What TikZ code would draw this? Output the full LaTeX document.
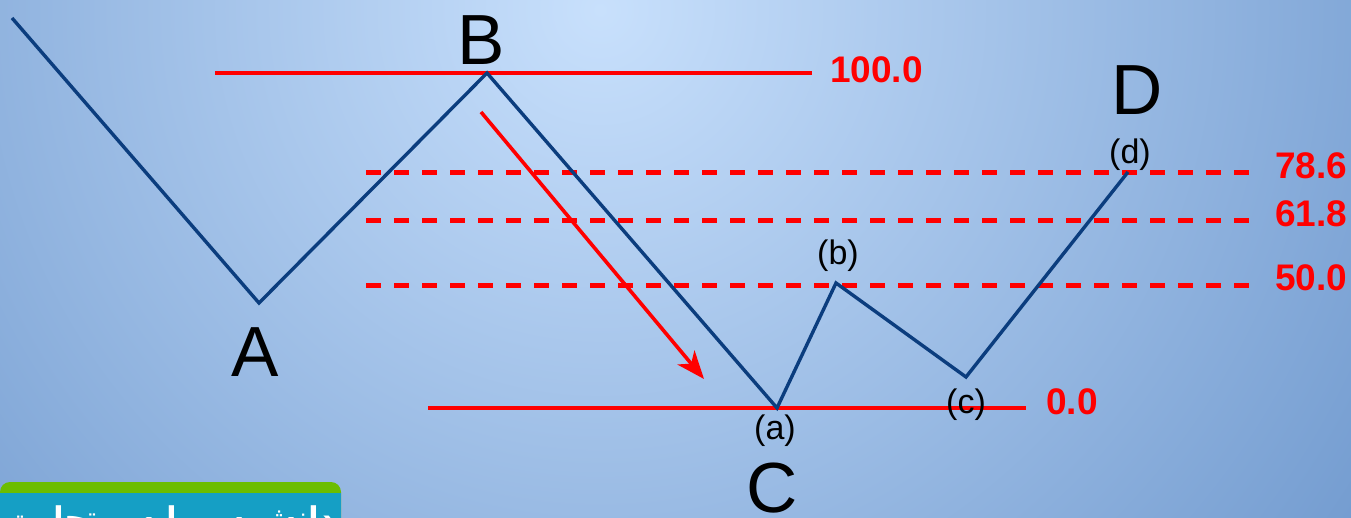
\documentclass[tikz,border=0pt]{standalone}
\usepackage{fontspec}
\setmainfont{Liberation Sans}
\newfontfamily\arabicfont[Script=Arabic]{DejaVu Sans}
\TeXXeTstate=1
\usetikzlibrary{arrows.meta}
\definecolor{bgin}{HTML}{C8E0FC}
\definecolor{bgout}{HTML}{6C96CC}
\definecolor{wavecol}{HTML}{0B3D7E}
\definecolor{fibred}{HTML}{FF0000}
\definecolor{bargreen}{HTML}{6CBD00}
\definecolor{barteal}{HTML}{159FC5}
\tikzset{
  waveline/.style={draw=wavecol, line width=3.4pt, line join=miter},
  levelline/.style={draw=fibred, line width=4pt},
  dashlevel/.style={draw=fibred, line width=5pt, dash pattern=on 15pt off 13pt},
  bigletter/.style={font=\fontsize{71}{80}\selectfont, text=black, inner sep=0pt},
  smalllabel/.style={font=\fontsize{34}{40}\selectfont, text=black, inner sep=0pt},
  pctlabel/.style={font=\bfseries\fontsize{37}{42}\selectfont, text=fibred, inner sep=0pt, anchor=west},
}
\begin{document}
\begin{tikzpicture}[x=1pt,y=-1pt]
\useasboundingbox (0,0) rectangle (1351,518);
\begin{scope}
\clip (0,0) rectangle (1351,518);
\shade[inner color=bgin, outer color=bgout] (600,10) circle (1000);
% bottom-left banner
\fill[bargreen] (0,518) -- (0,492) [rounded corners=10pt] -- (0,482) -- (341,482) [sharp corners] -- (341,518) -- cycle;
\fill[barteal] (0,493) rectangle (341,518);
\node[anchor=base, text=white, inner sep=0pt, font=\arabicfont\bfseries\fontsize{30}{34}\selectfont] (banner) at (170,528) {\beginR دانش سرمایه و تجارت\endR};
\end{scope}

% coordinates of the wave
\coordinate (p0) at (12,18);
\coordinate (pA) at (259,303);
\coordinate (pB) at (487,73);
\coordinate (pa) at (777,408);
\coordinate (pb) at (836,283);
\coordinate (pc) at (966,377);
\coordinate (pd) at (1128,172);

% level lines
\coordinate (l100a) at (215,73);  \coordinate (l100b) at (812,73);
\coordinate (l786a) at (366,173); \coordinate (l786b) at (1250,173);
\coordinate (l618a) at (366,221); \coordinate (l618b) at (1250,221);
\coordinate (l500a) at (366,286); \coordinate (l500b) at (1250,286);
\coordinate (l0a) at (428,408);   \coordinate (l0b) at (1026,408);

\draw[levelline] (l100a) -- (l100b);
\draw[dashlevel] (l786a) -- (l786b);
\draw[dashlevel] (l618a) -- (l618b);
\draw[dashlevel] (l500a) -- (l500b);
\draw[levelline] (l0a) -- (l0b);

\draw[waveline] (p0) -- (pA) -- (pB) -- (pa) -- (pb) -- (pc) -- (pd);

% red arrow
\coordinate (arrS) at (481,112);
\coordinate (arrE) at (704,379);
\draw[draw=fibred, line width=3.6pt, -{Stealth[length=28pt, width=22pt, inset=8pt]}] (arrS) -- (arrE);

% big letters
\node[bigletter] (A) at (255,352) {A};
\node[bigletter] (B) at (481,40) {B};
\node[bigletter] (C) at (772,488) {C};
\node[bigletter] (D) at (1137,90) {D};

% small labels
\node[smalllabel] (la) at (775,431) {(a)};
\node[smalllabel] (lb) at (838,256) {(b)};
\node[smalllabel] (lc) at (966,405) {(c)};
\node[smalllabel] (ld) at (1130,155) {(d)};

% percentage labels
\node[pctlabel] (t100) at (830,70) {100.0};
\node[pctlabel] (t786) at (1275,166) {78.6};
\node[pctlabel] (t618) at (1275,214) {61.8};
\node[pctlabel] (t500) at (1275,278) {50.0};
\node[pctlabel] (t0) at (1046,402) {0.0};
\end{tikzpicture}
\end{document}
